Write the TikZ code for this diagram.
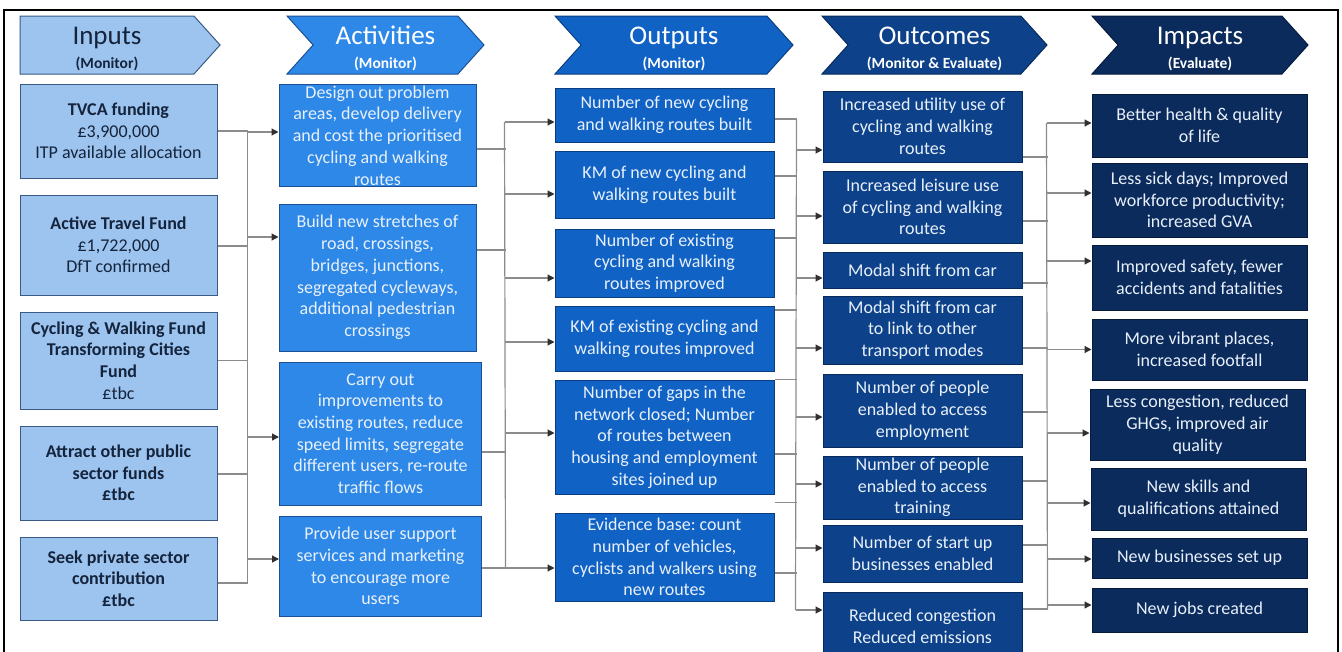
\documentclass[tikz,border=0pt]{standalone}
\usepackage{fontspec}
\setmainfont{Carlito}
\usepackage{tikz}
\usetikzlibrary{arrows.meta,shapes.symbols,calc}
\definecolor{infill}{HTML}{9DC3EF}
\definecolor{inedge}{HTML}{3A5A85}
\definecolor{intext}{HTML}{14243C}
\definecolor{actfill}{HTML}{2E88E8}
\definecolor{actedge}{HTML}{1D4F94}
\definecolor{outfill}{HTML}{1062C5}
\definecolor{outedge}{HTML}{0A3E80}
\definecolor{ocfill}{HTML}{0D4189}
\definecolor{ocedge}{HTML}{072A5C}
\definecolor{imfill}{HTML}{0B2B5D}
\definecolor{imedge}{HTML}{061B3E}
\definecolor{boxtext}{HTML}{E8F0FA}
\definecolor{wiregrey}{HTML}{8C8C8C}
\definecolor{tipgrey}{HTML}{303030}
\frenchspacing

\begin{document}
\begin{tikzpicture}[x=1pt, y=-1pt,
  every node/.style={font=\fontsize{18}{21.7}\selectfont},
  cell/.style={rectangle, align=center, inner sep=1pt, line width=1pt, text=boxtext},
  inbox/.style={cell, fill=infill, draw=inedge, text=intext, minimum width=197pt},
  actbox/.style={cell, fill=actfill, draw=actedge, minimum width=#1},
  outbox/.style={cell, fill=outfill, draw=outedge, minimum width=219pt},
  ocbox/.style={cell, fill=ocfill, draw=ocedge, minimum width=199pt},
  imbox/.style={cell, fill=imfill, draw=imedge, minimum width=215pt},
  head/.style={signal, signal to=east, signal pointer angle=96, minimum height=58pt, inner sep=1pt, align=center, line width=1pt, text=white},
  chev/.style={head, signal from=west},
  wire/.style={draw=wiregrey, line width=1.2pt},
  arrow/.style={wire, -{Triangle[length=7pt, width=7pt, color=tipgrey]}}
]
\clip (0,0) rectangle (1342,651);
\draw[line width=2pt] (4,660) -- (4,10) -- (1338,10) -- (1338,660);

% column headers
\node[head, fill=infill, draw=inedge, text=intext, minimum width=200pt] (inhead) at (107,45)
  {{\fontsize{27}{27}\selectfont\rule{0pt}{26pt}Inputs}\\[2pt]{\fontsize{15.5}{16}\selectfont\bfseries (Monitor)}};
\node[chev, fill=actfill, draw=actedge, minimum width=197pt] (acthead) at (385.5,45)
  {{\fontsize{27}{27}\selectfont\rule{0pt}{26pt}Activities}\\[2pt]{\fontsize{15.5}{16}\selectfont\bfseries (Monitor)}};
\node[chev, fill=outfill, draw=outedge, minimum width=238pt] (outhead) at (674,45)
  {{\fontsize{27}{27}\selectfont\rule{0pt}{26pt}Outputs}\\[2pt]{\fontsize{15.5}{16}\selectfont\bfseries (Monitor)}};
\node[chev, fill=ocfill, draw=ocedge, minimum width=225pt] (ochead) at (934.5,45)
  {{\fontsize{27}{27}\selectfont\rule{0pt}{26pt}Outcomes}\\[2pt]{\fontsize{15.5}{16}\selectfont\bfseries (Monitor \& Evaluate)}};
\node[chev, fill=imfill, draw=imedge, minimum width=216pt] (imhead) at (1200,45)
  {{\fontsize{27}{27}\selectfont\rule{0pt}{26pt}Impacts}\\[2pt]{\fontsize{15.5}{16}\selectfont\bfseries (Evaluate)}};

% inputs
\node[inbox, minimum height=94pt] (tvca) at (118.5,131) {\textbf{TVCA funding}\\£3,900,000\\ITP available allocation};
\node[inbox, minimum height=100pt] (atf) at (118.5,245) {\textbf{Active Travel Fund}\\£1,722,000\\DfT confirmed};
\node[inbox, minimum height=97pt] (cwf) at (118.5,360.5) {\textbf{Cycling \& Walking Fund}\\\textbf{Transforming Cities}\\\textbf{Fund}\\£tbc};
\node[inbox, minimum height=94pt] (publicfunds) at (118.5,473) {\textbf{Attract other public}\\\textbf{sector funds}\\\textbf{£tbc}};
\node[inbox, minimum height=83pt] (privatefunds) at (118.5,578.5) {\textbf{Seek private sector}\\\textbf{contribution}\\\textbf{£tbc}};

% activities
\node[actbox=197pt, minimum height=101pt] (design) at (377.5,135.5) {Design out problem\\areas, develop delivery\\and cost the prioritised\\cycling and walking\\routes};
\node[actbox=197pt, minimum height=147pt] (build) at (377.5,277.5) {Build new stretches of\\road, crossings,\\bridges, junctions,\\segregated cycleways,\\additional pedestrian\\crossings};
\node[actbox=202pt, minimum height=143pt] (improve) at (380.5,433.5) {Carry out\\improvements to\\existing routes, reduce\\speed limits, segregate\\different users, re-route\\traffic flows};
\node[actbox=202pt, minimum height=100pt] (promote) at (380.5,566) {Provide user support\\services and marketing\\to encourage more\\users};

% outputs
\node[outbox, minimum height=54pt] (newroutes) at (664.5,115) {Number of new cycling\\and walking routes built};
\node[outbox, minimum height=67pt] (newkm) at (664.5,184.5) {KM of new cycling and\\walking routes built};
\node[outbox, minimum height=68pt] (existroutes) at (664.5,263) {Number of existing\\cycling and walking\\routes improved};
\node[outbox, minimum height=65pt] (existkm) at (664.5,338.5) {KM of existing cycling and\\walking routes improved};
\node[outbox, minimum height=114pt] (gaps) at (664.5,437) {Number of gaps in the\\network closed; Number\\of routes between\\housing and employment\\sites joined up};
\node[outbox, minimum height=88pt] (evidence) at (664.5,557) {Evidence base: count\\number of vehicles,\\cyclists and walkers using\\new routes};

% outcomes
\node[ocbox, minimum height=71pt] (utility) at (922.5,126.5) {Increased utility use of\\cycling and walking\\routes};
\node[ocbox, minimum height=72pt] (leisure) at (922.5,207) {Increased leisure use\\of cycling and walking\\routes};
\node[ocbox, minimum height=36pt] (modal) at (922.5,270) {Modal shift from car};
\node[ocbox, minimum height=68pt] (modallink) at (922.5,330) {Modal shift from car\\to link to other\\transport modes};
\node[ocbox, minimum height=73pt] (employ) at (922.5,410.5) {Number of people\\enabled to access\\employment};
\node[ocbox, minimum height=63pt] (training) at (922.5,487.5) {Number of people\\enabled to access\\training};
\node[ocbox, minimum height=57pt] (startups) at (922.5,553.5) {Number of start up\\businesses enabled};
\node[ocbox, minimum height=68pt] (congestion) at (922.5,626) {Reduced congestion\\Reduced emissions};

% impacts
\node[imbox, minimum height=63pt] (health) at (1199.5,125.5) {Better health \& quality\\of life};
\node[imbox, minimum height=74pt] (sickdays) at (1199.5,200) {Less sick days; Improved\\workforce productivity;\\increased GVA};
\node[imbox, minimum height=65pt] (safety) at (1199.5,277.5) {Improved safety, fewer\\accidents and fatalities};
\node[imbox, minimum height=61pt] (places) at (1199.5,349.5) {More vibrant places,\\increased footfall};
\node[imbox, minimum height=71pt] (airquality) at (1197.5,424.5) {Less congestion, reduced\\GHGs, improved air\\quality};
\node[imbox, minimum height=62pt] (skills) at (1198.5,499) {New skills and\\qualifications attained};
\node[imbox, minimum height=40pt] (businesses) at (1199.5,558) {New businesses set up};
\node[imbox, minimum height=44pt] (jobs) at (1199.5,610) {New jobs created};

% inputs -> activities
\draw[wire] (tvca.east) -- ++(30,0)
  ($(atf.east)+(0,1)$) -- ++(30,0)
  (cwf.east) -- ++(30,0)
  ($(publicfunds.east)+(0,1)$) -- ++(30,0)
  ($(privatefunds.east)+(0,4.5)$) -- ++(30,0);
\draw[wire] ($(tvca.east)+(30,0)$) -- ($(privatefunds.east)+(30,4.5)$);
\draw[arrow] ($(design.west)+(-32,-3.5)$) -- +(32,0);
\draw[arrow] ($(build.west)+(-32,-40.5)$) -- +(32,0);
\draw[arrow] ($(improve.west)+(-32.5,3.5)$) -- +(32.5,0);
\draw[arrow] ($(promote.west)+(-32.5,-7)$) -- +(32.5,0);

% activities -> outputs
\draw[wire] ($(design.east)+(0,13.5)$) -- ++(29,0)
  ($(build.east)+(0,-27.5)$) -- ++(29,0)
  ($(improve.east)+(0,18.5)$) -- ++(23.5,0)
  ($(promote.east)+(0,2)$) -- ++(23.5,0);
\draw[wire] ($(newroutes.west)+(-50,7)$) -- ($(promote.east)+(23.5,2)$);
\draw[arrow] ($(newroutes.west)+(-50,7)$) -- +(50,0);
\draw[arrow] ($(newkm.west)+(-50,9.5)$) -- +(50,0);
\draw[arrow] ($(existroutes.west)+(-50,15)$) -- +(50,0);
\draw[arrow] ($(existkm.west)+(-50,3.5)$) -- +(50,0);
\draw[arrow] ($(gaps.west)+(-50,-4)$) -- +(50,0);
\draw[arrow] ($(evidence.west)+(-50,11)$) -- +(50,0);

% outputs -> outcomes
\draw[wire] ($(newroutes.east)+(0,4)$) -- ++(22,0)
  ($(newkm.east)+(0,-8.5)$) -- ++(22,0)
  ($(existroutes.east)+(0,-25)$) -- ++(22,0)
  ($(existkm.east)+(0,-28.5)$) -- ++(22,0)
  (gaps.north east) -- ++(22,0)
  ($(gaps.east)+(0,17)$) -- ++(22,0)
  ($(evidence.north east)+(0,-10)$) -- ++(22,0)
  ($(evidence.east)+(0,16)$) -- ++(22,0);
\draw[wire] ($(newroutes.east)+(22,4)$) -- ($(congestion.west)+(-27,-16)$);
\draw[arrow] ($(utility.west)+(-27,23.5)$) -- +(27,0);
\draw[arrow] ($(leisure.west)+(-27,9)$) -- +(27,0);
\draw[arrow] ($(modal.west)+(-27,8)$) -- +(27,0);
\draw[arrow] ($(modallink.west)+(-27,18)$) -- +(27,0);
\draw[arrow] ($(employ.west)+(-27,6.5)$) -- +(27,0);
\draw[arrow] ($(training.west)+(-27,-3.5)$) -- +(27,0);
\draw[arrow] ($(startups.west)+(-27,-5.5)$) -- +(27,0);
\draw[arrow] ($(congestion.west)+(-27,-16)$) -- +(27,0);

% outcomes -> impacts
\draw[wire] ($(utility.east)+(0,30.5)$) -- ++(25,0)
  ($(leisure.east)+(0,14)$) -- ++(25,0)
  ($(modal.east)+(0,13)$) -- ++(25,0)
  ($(modallink.east)+(0,18)$) -- ++(25,0)
  ($(employ.east)+(0,1.5)$) -- ++(25,0)
  ($(training.east)+(0,-6.5)$) -- ++(25,0)
  ($(startups.east)+(0,-8.5)$) -- ++(25,0)
  ($(congestion.east)+(0,-17)$) -- ++(25,0);
\draw[wire] ($(health.west)+(-45,-2.5)$) -- ($(congestion.east)+(25,-17)$);
\draw[arrow] ($(health.west)+(-45,-2.5)$) -- +(45,0);
\draw[arrow] ($(sickdays.west)+(-45,-7)$) -- +(45,0);
\draw[arrow] ($(safety.west)+(-45,-16.5)$) -- +(45,0);
\draw[arrow] ($(places.west)+(-45,0)$) -- +(45,0);
\draw[arrow] ($(airquality.west)+(-43,8.5)$) -- +(43,0);
\draw[arrow] ($(skills.west)+(-44,4)$) -- +(44,0);
\draw[arrow] ($(businesses.west)+(-45,1)$) -- +(45,0);
\draw[arrow] ($(jobs.west)+(-45,-5)$) -- +(45,0);
\end{tikzpicture}
\end{document}
